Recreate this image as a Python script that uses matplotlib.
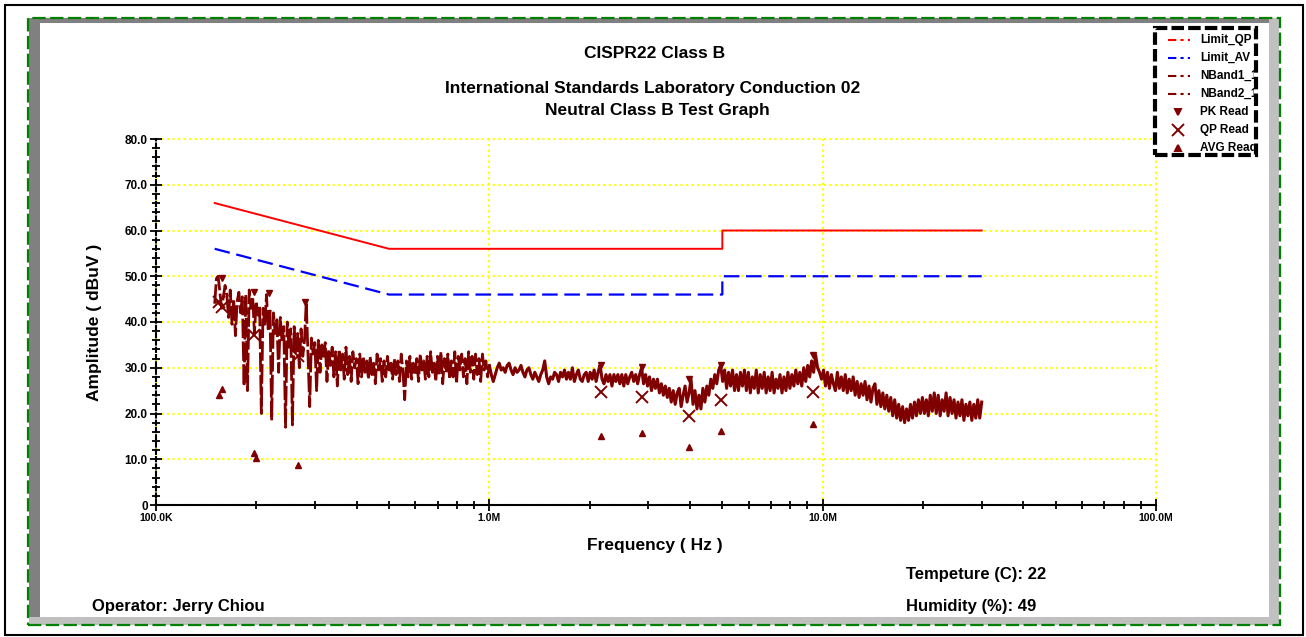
import numpy as np
import matplotlib
matplotlib.use('Agg')
import matplotlib.pyplot as plt
from matplotlib.patches import Rectangle
from matplotlib.lines import Line2D
from matplotlib.ticker import LogLocator, MultipleLocator, NullFormatter
from matplotlib.transforms import Bbox, TransformedBbox

# ---- data (frequencies in MHz, levels in dBuV) ----
limit_f = [0.15, 0.5, 5.0, 5.0, 30.0]
limit_qp = [66, 56, 56, 60, 60]
limit_av = [56, 46, 46, 50, 50]

# scan 1 : 0.15 - 1 MHz, 160 sweep points
nband1_start, nband1_stop = 0.15, 1.0
nband1 = [44.0, 49.5, 50.0, 46.5, 43.0, 45.5, 48.0, 46.0,
          41.0, 47.0, 39.5, 45.0, 37.0, 44.5, 46.5, 42.0,
          45.5, 26.0, 46.0, 25.0, 47.0, 43.0, 45.5, 37.5,
          44.5, 41.5, 43.5, 20.0, 43.0, 39.5, 46.0, 38.0,
          43.0, 18.5, 42.0, 37.5, 40.5, 29.0, 41.0, 35.5,
          39.0, 17.0, 40.0, 34.5, 38.5, 17.5, 39.0, 33.5,
          37.5, 30.0, 38.5, 32.5, 36.0, 44.5, 33.0, 21.5,
          36.5, 33.0, 35.5, 25.0, 36.0, 29.0, 35.0, 32.5,
          35.5, 27.0, 34.0, 30.5, 34.5, 28.0, 33.5, 26.0,
          34.0, 29.5, 33.0, 27.5, 34.5, 28.5, 32.5, 27.0,
          33.5, 30.0, 32.0, 26.5, 33.0, 28.0, 32.5, 29.0,
          31.5, 27.5, 32.5, 28.5, 31.0, 26.5, 33.0, 29.5,
          32.0, 27.0, 31.5, 28.0, 32.5, 29.0, 31.0, 27.5,
          32.0, 28.5, 31.5, 27.0, 33.0, 29.0, 23.0, 31.5,
          28.0, 32.5, 27.5, 31.0, 28.5, 32.0, 27.0, 33.0,
          29.5, 31.5, 27.5, 32.5, 28.0, 33.5, 29.0, 31.0,
          27.0, 32.5, 28.5, 33.5, 26.5, 32.0, 29.0, 33.0,
          27.5, 31.5, 28.0, 33.5, 26.5, 32.5, 29.5, 33.0,
          28.0, 32.0, 26.5, 33.5, 29.0, 32.5, 27.5, 33.0,
          28.5, 32.0, 27.0, 33.0, 29.5, 31.5, 28.0, 30.5]

# scan 2 : 1 - 30 MHz, 250 sweep points
nband2_start, nband2_stop = 1.0, 30.0
nband2 = [30.5, 28.5, 27.0, 28.5, 30.0, 31.0, 29.5, 30.0, 29.0, 30.5,
          31.0, 29.5, 28.5, 30.0, 29.0, 29.5, 30.5, 29.0, 28.0, 29.5,
          30.0, 28.5, 27.5, 29.0, 28.0, 27.0, 28.5, 29.5, 31.5, 28.0,
          26.5, 28.0, 27.5, 29.0, 28.5, 27.0, 29.0, 28.0, 29.5, 27.5,
          29.0, 27.5, 30.0, 27.0, 28.5, 29.5, 27.5, 27.0, 28.5, 29.0,
          27.0, 29.0, 27.5, 29.5, 27.0, 29.0, 30.6, 27.5, 26.5, 28.5,
          27.0, 28.5, 26.0, 28.5, 27.0, 28.5, 26.5, 28.5, 26.0, 28.5,
          26.5, 28.0, 29.0, 27.0, 28.5, 26.5, 28.5, 30.0, 26.5, 28.5,
          26.0, 28.0, 25.0, 27.5, 25.5, 27.5, 24.5, 26.5, 24.0, 26.0,
          23.5, 25.5, 22.5, 25.0, 22.0, 24.5, 25.5, 21.5, 24.0, 26.0,
          22.5, 24.5, 27.5, 22.0, 25.0, 21.0, 24.0, 21.0, 25.5, 22.5,
          26.0, 24.0, 27.5, 25.5, 28.5, 26.5, 29.5, 30.6, 27.0, 29.5,
          25.5, 29.0, 26.0, 29.5, 25.0, 28.5, 25.0, 29.0, 26.0, 29.5,
          25.0, 29.0, 24.5, 28.0, 25.5, 29.5, 24.5, 28.5, 25.5, 29.0,
          24.5, 28.0, 25.0, 29.0, 24.5, 27.5, 25.5, 28.5, 24.5, 28.0,
          25.0, 29.0, 25.5, 28.5, 26.0, 29.5, 26.5, 29.0, 26.0, 30.0,
          27.0, 30.5, 28.0, 31.5, 29.0, 32.8, 30.0, 29.0, 27.5, 29.5,
          26.0, 29.0, 25.5, 28.5, 26.5, 25.0, 29.0, 25.5, 28.0, 25.0,
          28.5, 24.5, 27.5, 25.0, 28.0, 24.0, 27.0, 23.5, 26.5, 24.0,
          27.0, 23.0, 26.0, 22.5, 25.5, 26.5, 22.0, 25.0, 21.5, 24.5,
          21.0, 24.0, 20.5, 23.5, 19.5, 23.0, 19.0, 22.0, 18.5, 21.5,
          18.0, 21.0, 18.5, 22.0, 19.0, 22.5, 19.5, 23.0, 20.0, 23.5,
          20.0, 23.0, 19.5, 24.0, 20.5, 24.5, 20.0, 24.0, 19.5, 23.0,
          20.5, 24.5, 19.5, 23.5, 20.0, 23.0, 19.0, 22.5, 19.5, 23.0,
          18.5, 22.0, 19.5, 22.5, 18.5, 22.0, 19.0, 23.0, 19.0, 22.5]

pk_f = [0.158, 0.197, 0.218, 0.280, 2.16, 2.87, 3.98, 4.96, 9.37]
pk_v = [49.6, 46.5, 46.3, 44.4, 30.6, 30.1, 27.5, 30.6, 32.8]
qp_f = [0.155, 0.158, 0.197, 0.266, 2.16, 2.87, 3.98, 4.96, 9.37]
qp_v = [44.3, 43.3, 37.2, 32.5, 24.8, 23.5, 19.5, 23.0, 24.8]
avg_f = [0.155, 0.158, 0.197, 0.199, 0.266, 2.16, 2.87, 3.98, 4.96, 9.37]
avg_v = [24.0, 25.3, 11.3, 10.2, 8.7, 15.1, 15.7, 12.7, 16.2, 17.7]

y_ticks = [0, 10, 20, 30, 40, 50, 60, 70, 80]
y_labels = ['0', '10.0', '20.0', '30.0', '40.0', '50.0', '60.0', '70.0', '80.0']
x_ticks = [1e5, 1e6, 1e7, 1e8]
x_labels = ['100.0K', '1.0M', '10.0M', '100.0M']

legend_labels = ['Limit_QP', 'Limit_AV', 'NBand1_1', 'NBand2_1', 'PK Read', 'QP Read', 'AVG Read']

MAROON = '#800000'

plt.rcParams['font.family'] = ['Liberation Sans', 'DejaVu Sans']
plt.rcParams['font.weight'] = 'bold'

W, H = 1306, 637
fig = plt.figure(figsize=(W / 100, H / 100), dpi=100)

def fx(x):                      # pixel -> figure fraction
    return x / W

def fy(y):
    return 1 - y / H

def box(x0, y0, x1, y1, **kw):
    r = Rectangle((fx(x0), fy(y1)), (x1 - x0) / W, (y1 - y0) / H,
                  transform=fig.transFigure, **kw)
    fig.add_artist(r)
    return r

# ---- outer frame with bevel ----
box(5, 5, 1303, 635, facecolor='none', edgecolor='black', lw=1.5, zorder=1)
box(29, 18, 40, 625, facecolor='#808080', edgecolor='none', zorder=1)
box(29, 18, 1279, 23, facecolor='#808080', edgecolor='none', zorder=1)
box(1269, 18, 1279, 625, facecolor='#c0c0c0', edgecolor='none', zorder=1)
box(29, 617, 1279, 625, facecolor='#c0c0c0', edgecolor='none', zorder=1)
box(28, 18, 1280, 625, facecolor='none', edgecolor='#008000', lw=1.6,
    ls=(0, (6, 2)), zorder=2)

# ---- plot area ----
ax = fig.add_axes([fx(156), fy(505), 1000 / W, 366 / H])

f1 = np.geomspace(nband1_start, nband1_stop, len(nband1))
f2 = np.geomspace(nband2_start, nband2_stop, len(nband2))

ax.plot(np.array(limit_f) * 1e6, limit_qp, color='red', lw=1.4)
ax.plot(np.array(limit_f) * 1e6, limit_av, color='blue', lw=1.6, ls=(0, (7, 3)))
ax.plot(f1 * 1e6, nband1, color=MAROON, lw=2.0, ls=(0, (7, 1.2)))
ax.plot(f2 * 1e6, nband2, color=MAROON, lw=2.2)
ax.plot(np.array(pk_f) * 1e6, pk_v, ls='none', marker='v', ms=5, color=MAROON)
ax.plot(np.array(qp_f) * 1e6, qp_v, ls='none', marker='x', ms=8, mew=1.4, color=MAROON)
ax.plot(np.array(avg_f) * 1e6, avg_v, ls='none', marker='^', ms=5, color=MAROON)

ax.set_xscale('log')
ax.set_xlim(1e5, 1e8)
ax.set_ylim(0, 80)
ax.set_xticks(x_ticks, x_labels)
ax.xaxis.set_minor_locator(LogLocator(base=10, subs=range(2, 10)))
ax.xaxis.set_minor_formatter(NullFormatter())
ax.set_yticks(y_ticks, y_labels)
ax.yaxis.set_minor_locator(MultipleLocator(2))

ax.tick_params(which='major', direction='inout', length=8, width=1.3, pad=2)
ax.tick_params(which='minor', direction='inout', length=6, width=1.3)
ax.tick_params(axis='x', labelsize=7.5)
ax.tick_params(axis='y', labelsize=8.5)

ax.grid(True, which='major', color='#ffff00', ls=':', lw=1.5)
ax.set_axisbelow(True)
for gl in ax.get_ygridlines() + ax.get_xgridlines():     # keep the edge grid lines whole
    gl.set_clip_on(False)
for s in ['top', 'right']:
    ax.spines[s].set_visible(False)
ax.spines['left'].set_linestyle((0, (2, 1.5)))
ax.spines['left'].set_linewidth(1.5)
ax.spines['bottom'].set_linewidth(1.5)

ax.set_xlabel('Frequency ( Hz )', fontsize=12.5, fontweight='bold')
ax.xaxis.label.set_va('center')
ax.xaxis.set_label_coords(0.499, -0.112)
ax.set_ylabel('Amplitude ( dBuV )', fontsize=12.5, fontweight='bold')
ax.yaxis.label.set_va('center')
ax.yaxis.set_label_coords(-0.061, 0.5)

# ---- titles and notes ----
fig.text(fx(655), fy(53), 'CISPR22 Class B', ha='center', va='center', fontsize=12.5)
fig.text(fx(653), fy(88), 'International Standards Laboratory Conduction 02',
         ha='center', va='center', fontsize=12.5)
fig.text(fx(657), fy(111), 'Neutral Class B Test Graph', ha='center', va='center', fontsize=12.5)
fig.text(fx(906), fy(574), 'Tempeture (C): 22', ha='left', va='center', fontsize=12)
fig.text(fx(906), fy(606), 'Humidity (%): 49', ha='left', va='center', fontsize=12)
fig.text(fx(92), fy(606), 'Operator: Jerry Chiou', ha='left', va='center', fontsize=12)

# ---- legend box (drawn by hand, text clipped like the original) ----
box(1155, 28, 1256, 155, facecolor='white', edgecolor='black', lw=3,
    ls=(0, (3, 1)), zorder=5)
clip = TransformedBbox(Bbox([[fx(1157), fy(153)], [fx(1254), fy(30)]]), fig.transFigure)
styles = [dict(color='red'), dict(color='blue'), dict(color=MAROON), dict(color=MAROON),
          dict(marker='v'), dict(marker='x'), dict(marker='^')]
for i, (lab, st) in enumerate(zip(legend_labels, styles)):
    y = 39.5 + i * 18.1
    if 'marker' in st:
        ms = 8 if st['marker'] == 'x' else 4.5
        fig.add_artist(Line2D([fx(1178)], [fy(y)], marker=st['marker'], ms=ms, mew=1.4,
                              color=MAROON, ls='none', transform=fig.transFigure, zorder=6))
    else:
        fig.add_artist(Line2D([fx(1168), fx(1190)], [fy(y), fy(y)], color=st['color'], lw=1.5,
                              ls=(0, (4, 2, 1.5, 2)), transform=fig.transFigure, zorder=6))
    t = fig.text(fx(1200), fy(y), lab, fontsize=8.5, va='center', zorder=6)
    t.set_clip_box(clip)
    t.set_clip_on(True)

fig.savefig('out.png', dpi=100)
